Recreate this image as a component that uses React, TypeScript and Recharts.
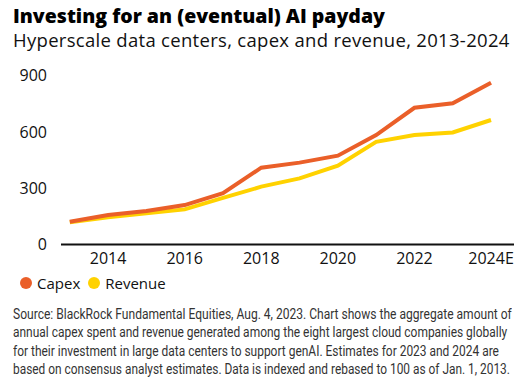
import React, { useLayoutEffect, useRef, useState } from "react";
import { LineChart, Line, XAxis, YAxis } from "recharts";

const years = [2013, 2014, 2015, 2016, 2017, 2018, 2019, 2020, 2021, 2022, 2023, 2024];
const capex = [121, 157, 178, 210, 273, 409, 436, 473, 583, 728, 752, 862];
const revenue = [119, 145, 166, 187, 248, 308, 352, 420, 547, 583, 597, 663];
const xTicks = [2014, 2016, 2018, 2020, 2022, 2024];
const xTickLabels = ["2014", "2016", "2018", "2020", "2022", "2024E"];
const yTicks = [0, 300, 600, 900];

const footLines = [
  "Source: BlackRock Fundamental Equities, Aug. 4, 2023. Chart shows the aggregate amount of",
  "annual capex spent and revenue generated among the eight largest cloud companies globally",
  "for their investment in large data centers to support genAI. Estimates for 2023 and 2024 are",
  "based on consensus analyst estimates. Data is indexed and rebased to 100 as of Jan. 1, 2013.",
];
const footWidths = [499, 494, 486, 497];

const data = years.map((y, i) => ({ year: y, capex: capex[i], revenue: revenue[i] }));

const CAPEX = "#EA5F29";
const REVENUE = "#FFD200";
const FONT = "'Open Sans', 'Noto Sans', sans-serif";

function FitLine({ text, target, top }: { text: string; target: number; top: number }) {
  const ref = useRef<HTMLSpanElement>(null);
  const [scale, setScale] = useState(0.84);
  useLayoutEffect(() => {
    if (ref.current) {
      const w = ref.current.offsetWidth;
      if (w > 0) setScale(target / w);
    }
  }, [text, target]);
  return (
    <span
      ref={ref}
      style={{
        position: "absolute",
        left: 13,
        top,
        whiteSpace: "nowrap",
        fontFamily: "'Roboto', sans-serif",
        fontSize: 14,
        lineHeight: "18px",
        color: "#333",
        transform: `scaleX(${scale})`,
        transformOrigin: "0 0",
      }}
    >
      {text}
    </span>
  );
}

export default function App() {
  return (
    <div style={{ position: "absolute", left: 0, top: 0, width: 525, height: 381, background: "#fff", fontFamily: FONT, overflow: "hidden" }}>
      <div style={{ position: "absolute", left: 13, top: 6, fontSize: 19.5, lineHeight: "20px", fontWeight: 800, color: "#000", whiteSpace: "nowrap" }}>
        Investing for an (eventual) AI payday
      </div>
      <div style={{ position: "absolute", left: 13, top: 30, fontSize: 18.5, lineHeight: "20px", letterSpacing: 0.3, color: "#111", whiteSpace: "nowrap" }}>
        Hyperscale data centers, capex and revenue, 2013-2024
      </div>
      <div style={{ position: "absolute", left: 0, top: 0 }}>
        <LineChart width={525} height={275} data={data} margin={{ top: 75.5, right: 11, bottom: 0.5, left: 0 }}>
          <XAxis
            dataKey="year"
            type="number"
            domain={[2012.77, 2024.6]}
            ticks={xTicks}
            tickFormatter={(v: number) => xTickLabels[xTicks.indexOf(v)]}
            tickLine={false}
            tickSize={0}
            tickMargin={8}
            height={30}
            axisLine={{ stroke: "#111", strokeWidth: 2 }}
            tick={{ fill: "#111", fontSize: 16, fontFamily: FONT }}
            allowDataOverflow
          />
          <YAxis
            type="number"
            domain={[0, 900]}
            ticks={yTicks}
            width={61}
            axisLine={false}
            tickLine={false}
            tickSize={0}
            tickMargin={14}
            tick={{ fill: "#111", fontSize: 16, fontFamily: FONT }}
          />
          <Line type="linear" dataKey="revenue" stroke={REVENUE} strokeWidth={4} dot={false} isAnimationActive={false} />
          <Line type="linear" dataKey="capex" stroke={CAPEX} strokeWidth={4} dot={false} isAnimationActive={false} />
        </LineChart>
      </div>
      <div style={{ position: "absolute", left: 20, top: 273, display: "flex", alignItems: "center", fontSize: 15, color: "#111" }}>
        <span style={{ display: "inline-block", width: 12, height: 12, borderRadius: 6, background: CAPEX, marginRight: 5 }} />
        <span style={{ marginRight: 8 }}>Capex</span>
        <span style={{ display: "inline-block", width: 12, height: 12, borderRadius: 6, background: REVENUE, marginRight: 5 }} />
        <span>Revenue</span>
      </div>
      {footLines.map((t, i) => (
        <FitLine key={i} text={t} target={footWidths[i]} top={304.5 + i * 18.5} />
      ))}
    </div>
  );
}
